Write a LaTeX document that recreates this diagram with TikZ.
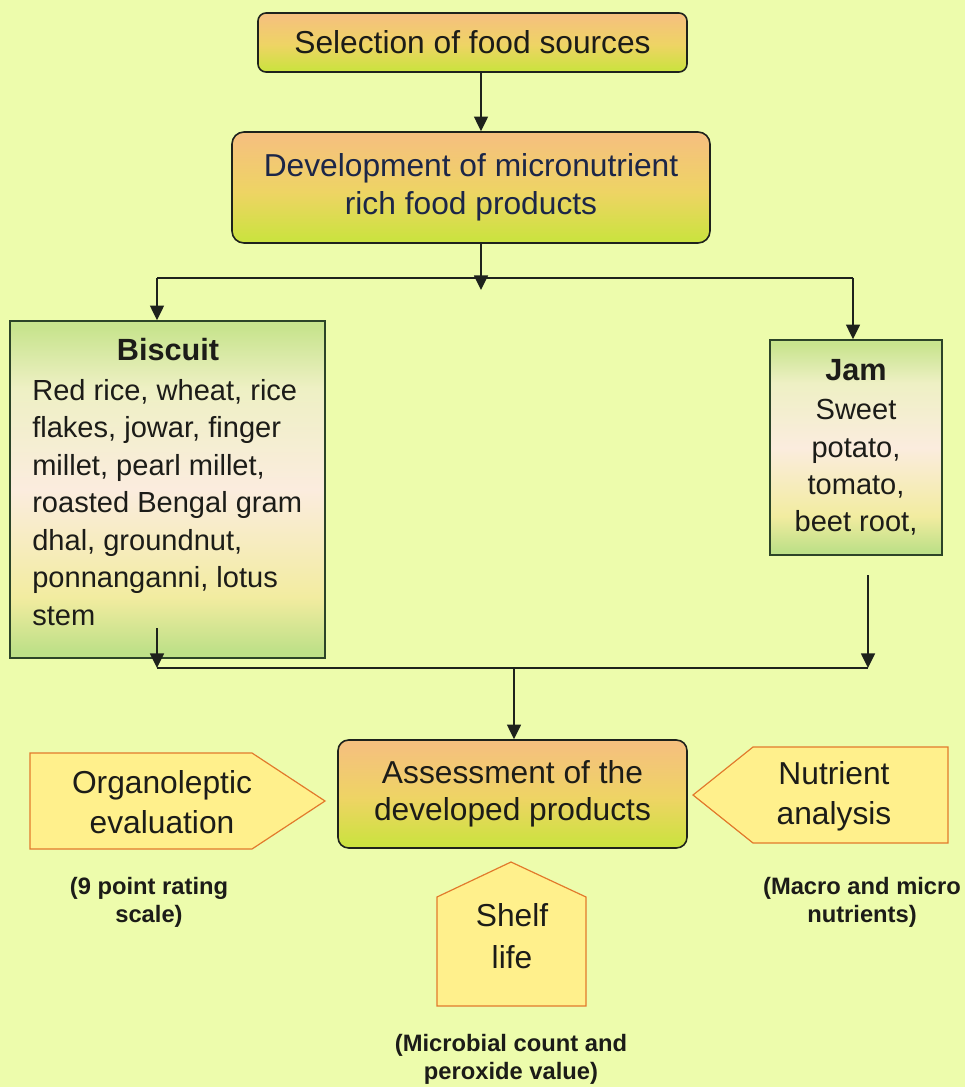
\documentclass[tikz,border=0pt]{standalone}
\usepackage{fontspec}
\setmainfont{Liberation Sans}
\usetikzlibrary{arrows.meta}

% palette
\definecolor{bgc}{RGB}{237,252,172}
\definecolor{linec}{RGB}{30,34,28}
\definecolor{warmtop}{RGB}{245,192,126}
\definecolor{warmmid}{RGB}{238,212,100}
\definecolor{warmbot}{RGB}{204,226,64}
\definecolor{lgtop}{RGB}{200,228,142}
\definecolor{lgupper}{RGB}{238,240,196}
\definecolor{lgmid}{RGB}{251,236,222}
\definecolor{lglow}{RGB}{242,236,160}
\definecolor{lgbot}{RGB}{190,224,136}
\definecolor{pentfill}{RGB}{255,240,140}
\definecolor{pentline}{RGB}{226,122,44}
\definecolor{navytext}{RGB}{28,38,72}
\definecolor{darktext}{RGB}{28,28,24}
\definecolor{listedge}{RGB}{44,68,40}

% gradients for the boxes (the shape spans 25bp..75bp of the shading)
\pgfdeclareverticalshading{warmbox}{100bp}{color(0bp)=(warmbot); color(27bp)=(warmbot); color(48bp)=(warmmid); color(73bp)=(warmtop); color(100bp)=(warmtop)}
\pgfdeclareverticalshading{listbox}{100bp}{color(0bp)=(lgbot); color(26bp)=(lgbot); color(34bp)=(lglow); color(50bp)=(lgmid); color(65bp)=(lgupper); color(74bp)=(lgtop); color(100bp)=(lgtop)}

\tikzset{
  mainfont/.style={font=\fontsize{23.8}{28.5}\selectfont},
  warm/.style={shading=warmbox, draw=linec, line width=1.2pt, align=center,
               text=darktext, inner sep=0pt},
  listframe/.style={shading=listbox, draw=listedge, line width=1.2pt, inner sep=0pt},
  pent/.style={fill=pentfill, draw=pentline, line width=0.9pt, line join=miter},
  wire/.style={draw=linec, line width=1.2pt},
  flow/.style={wire, -{Triangle[length=11pt,width=10.5pt]}},
  boxtitle/.style={font=\bfseries\fontsize{23}{28}\selectfont, text=darktext, inner sep=0pt},
  boxbody/.style={font=\fontsize{21.8}{28.1}\selectfont, text=darktext, inner sep=0pt},
  note/.style={font=\bfseries\fontsize{17.8}{21}\selectfont, text=darktext, align=center, inner sep=0pt}
}

\begin{document}
\begin{tikzpicture}[x=0.75pt,y=-0.75pt]
\useasboundingbox (0,0) rectangle (965,1087);
\fill[bgc] (0,0) rectangle (965,1087);

% main process boxes
\node[warm, mainfont, rounded corners=6pt, minimum width=321.75pt, minimum height=44.25pt]
  (sel) at (472.5,42.5) {Selection of food sources};
\node[warm, mainfont, rounded corners=9pt, minimum width=358.5pt, minimum height=83.25pt, text=navytext]
  (dev) at (471,187.5) {Development of micronutrient\\rich food products};

% product boxes
\node[listframe, minimum width=236.25pt, minimum height=252.75pt] (bisc) at (167.5,489.5) {};
\node[boxtitle, anchor=base] (bisctitle) at (168,360) {Biscuit};
\node[boxbody, align=left, anchor=north west] (biscbody) at (32,379)
  {Red rice, wheat, rice\\flakes, jowar, finger\\millet, pearl millet,\\roasted Bengal gram\\dhal, groundnut,\\ponnanganni, lotus\\stem};

\node[listframe, minimum width=129pt, minimum height=161.25pt] (jam) at (856,447.5) {};
\node[boxtitle, anchor=base] (jamtitle) at (856,380) {Jam};
\node[boxbody, align=center, anchor=north] (jambody) at (856,399)
  {Sweet\\potato,\\tomato,\\beet root,};

% assessment box
\node[warm, rounded corners=8pt, minimum width=261.75pt, minimum height=81pt,
      font=\fontsize{23.8}{27.75}\selectfont]
  (assess) at (512.5,794) {Assessment of the\\developed products};

% assessment methods
\draw[pent] (30,753) -- (252,753) -- (325,801) -- (252,849) -- (30,849) -- cycle;
\node[align=center, text=darktext, font=\fontsize{23.8}{30}\selectfont] (organo) at (162,802)
  {Organoleptic\\evaluation};
\draw[pent] (948,747) -- (753,747) -- (693,795) -- (753,843) -- (948,843) -- cycle;
\node[align=center, text=darktext, font=\fontsize{23.8}{30}\selectfont] (nutri) at (834,796)
  {Nutrient\\analysis};
\draw[pent] (437,1006) -- (437,897) -- (511,862) -- (586,897) -- (586,1006) -- cycle;
\node[align=center, text=darktext, font=\fontsize{23.8}{31.5}\selectfont] (shelf) at (512,936)
  {Shelf\\life};

\node[note] (organonote) at (149,902) {(9 point rating\\scale)};
\node[note] (nutrinote) at (862,902) {(Macro and micro\\nutrients)};
\node[note] (shelfnote) at (511,1059) {(Microbial count and\\peroxide value)};

% connectors
\coordinate (jtop) at (481,290);
\coordinate (bl) at (157,278);
\coordinate (br) at (853,278);
\coordinate (bstart) at (157,628);
\coordinate (bjoin) at (157,668);
\coordinate (jstart) at (868,575);
\coordinate (jjoin) at (868,668);
\coordinate (mid) at (514,668);

\draw[flow] (jtop |- sel.south) -- (jtop |- dev.north);
\draw[flow] (jtop |- dev.south) -- (jtop);
\draw[wire] (bl) -- (br);
\draw[flow] (bl) -- (bl |- bisc.north);
\draw[flow] (br) -- (br |- jam.north);

\draw[flow] (bstart) -- (bjoin);
\draw[flow] (jstart) -- (jjoin);
\draw[wire] (bjoin) -- (jjoin);
\draw[flow] (mid) -- (mid |- assess.north);
\end{tikzpicture}
\end{document}
